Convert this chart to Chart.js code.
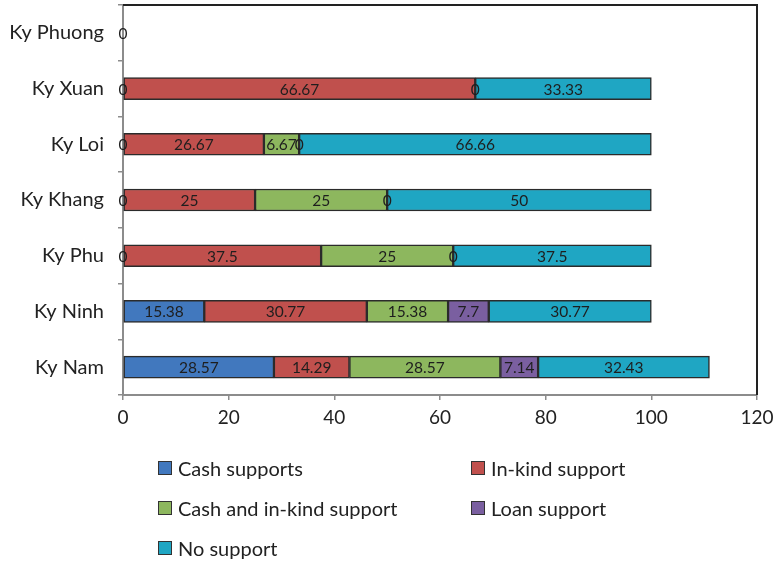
<!DOCTYPE html>
<html lang="en">
<head>
  <meta charset="UTF-8">
  <title>Support by commune</title>
  <script src="https://cdn.jsdelivr.net/npm/chart.js"></script>
  <style>
    html, body { margin: 0; padding: 0; background: #fff; }
    #wrap { position: relative; width: 778px; height: 564px; }
    #legend {
      position: absolute; left: 158px; top: 456px; width: 600px;
      font-family: Lato, sans-serif; font-size: 20px; color: #222;
      display: grid; grid-template-columns: 313px 280px; row-gap: 16px;
    }
    .item { display: flex; align-items: center; height: 24px; }
    .box { width: 12px; height: 12px; border: 1.5px solid #333; margin-right: 6px; }
  </style>
</head>
<body>
<div id="wrap">
  <canvas id="myChart" width="778" height="564"></canvas>
  <div id="legend"></div>
</div>
<script>
  // Communes, top to bottom
  const communes = ['Ky Phuong', 'Ky Xuan', 'Ky Loi', 'Ky Khang', 'Ky Phu', 'Ky Ninh', 'Ky Nam'];

  // Share of households (%) by support type
  const cashSupports = [0, 0, 0, 0, 0, 15.38, 28.57];
  const inKindSupport = [null, 66.67, 26.67, 25, 37.5, 30.77, 14.29];
  const cashAndInKind = [null, null, 6.67, 25, 25, 15.38, 28.57];
  const loanSupport = [null, 0, 0, 0, 0, 7.7, 7.14];
  const noSupport = [null, 33.33, 66.66, 50, 37.5, 30.77, 32.43];

  const xTicks = [0, 20, 40, 60, 80, 100, 120];

  const seriesNames = ['Cash supports', 'In-kind support', 'Cash and in-kind support', 'Loan support', 'No support'];
  const seriesColors = ['#4178BE', '#C0504D', '#8DB75E', '#7A5FA0', '#1FA6C3'];
  const seriesValues = [cashSupports, inKindSupport, cashAndInKind, loanSupport, noSupport];

  // Values printed in the middle of each segment
  const segmentLabels = {
    id: 'segmentLabels',
    afterDatasetsDraw(chart) {
      const ctx = chart.ctx;
      ctx.save();
      ctx.font = '15.5px Lato, sans-serif';
      ctx.fillStyle = '#1e1e1e';
      ctx.textAlign = 'center';
      ctx.textBaseline = 'middle';
      chart.data.datasets.forEach((ds, i) => {
        chart.getDatasetMeta(i).data.forEach((bar, j) => {
          const v = ds.data[j];
          if (v === null || v === undefined) return;
          const p = bar.getProps(['x', 'y', 'base'], true);
          ctx.fillText(String(v), (p.x + p.base) / 2, p.y + 1);
        });
      });
      ctx.restore();
    }
  };

  // Dark frame on the top and right of the plot area
  const plotFrame = {
    id: 'plotFrame',
    afterDraw(chart) {
      const a = chart.chartArea;
      const ctx = chart.ctx;
      ctx.save();
      ctx.strokeStyle = '#222';
      ctx.lineWidth = 2;
      ctx.beginPath();
      ctx.moveTo(a.left, a.top);
      ctx.lineTo(a.right, a.top);
      ctx.lineTo(a.right, a.bottom);
      ctx.stroke();
      ctx.restore();
    }
  };

  const ctx = document.getElementById('myChart').getContext('2d');
  const chart = new Chart(ctx, {
    type: 'bar',
    data: {
      labels: communes,
      datasets: seriesNames.map((name, i) => ({
        label: name,
        data: seriesValues[i],
        backgroundColor: seriesColors[i],
        borderColor: '#2b2b2b',
        borderWidth: 1.5,
        borderSkipped: false,
        barThickness: 22
      }))
    },
    options: {
      indexAxis: 'y',
      responsive: false,
      animation: false,
      layout: { padding: { left: 0, right: 21, top: 5, bottom: 129 } },
      plugins: {
        legend: { display: false },
        tooltip: { enabled: false }
      },
      scales: {
        x: {
          stacked: true,
          min: 0,
          max: 120,
          afterBuildTicks(scale) { scale.ticks = xTicks.map(v => ({ value: v })); },
          afterFit(scale) {
            scale.height = 40;
            scale.paddingLeft = 0;
            scale.paddingRight = 0;
          },
          grid: { drawOnChartArea: false, drawTicks: true, tickLength: 5, color: '#8c8c8c', lineWidth: 1.5 },
          border: { color: '#8c8c8c', width: 2 },
          ticks: { font: { family: 'Lato', size: 19 }, color: '#222', padding: 6, maxRotation: 0 }
        },
        y: {
          stacked: true,
          afterFit(scale) {
            scale.width = 123;
            scale.paddingTop = 0;
            scale.paddingBottom = 0;
          },
          grid: { drawOnChartArea: false, drawTicks: true, tickLength: 5, color: '#8c8c8c', lineWidth: 1.5, offset: true },
          border: { color: '#8c8c8c', width: 2 },
          ticks: { font: { family: 'Lato', size: 20 }, color: '#222', padding: 14 }
        }
      }
    },
    plugins: [segmentLabels, plotFrame]
  });

  // Two-column legend under the plot
  const legend = document.getElementById('legend');
  chart.data.datasets.forEach(ds => {
    const item = document.createElement('div');
    item.className = 'item';
    const box = document.createElement('span');
    box.className = 'box';
    box.style.background = ds.backgroundColor;
    const text = document.createElement('span');
    text.textContent = ds.label;
    item.appendChild(box);
    item.appendChild(text);
    legend.appendChild(item);
  });
</script>
</body>
</html>
